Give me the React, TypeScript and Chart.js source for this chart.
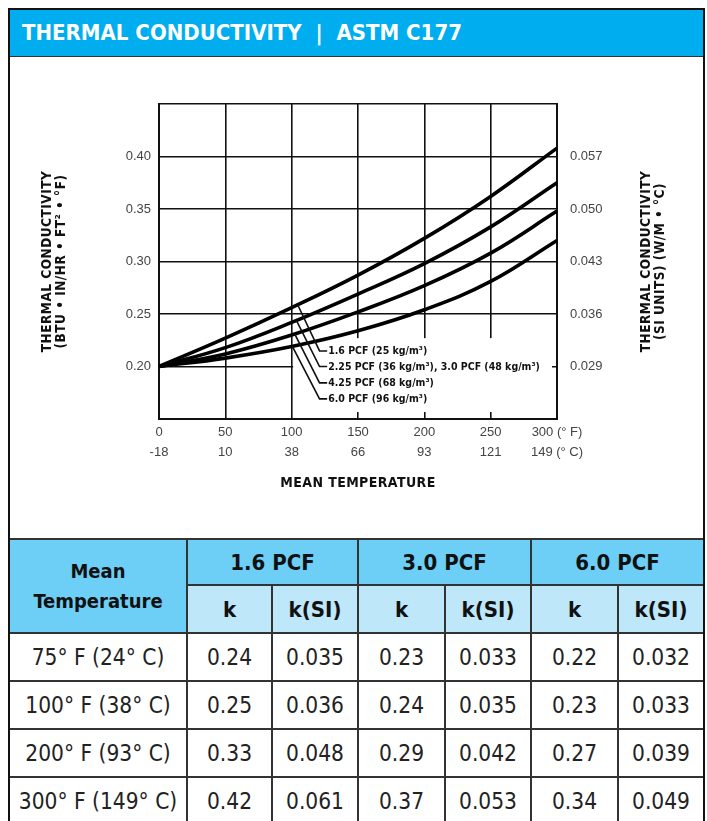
import React, { useEffect, useRef } from 'react';
import { Chart, registerables } from 'chart.js';

Chart.register(...registerables);

// ---------- chart data ----------
const temperaturesF = [0, 50, 100, 150, 200, 250, 300];
const series16 = [0.2, 0.227, 0.256, 0.287, 0.322, 0.362, 0.408];
const series225 = [0.2, 0.218, 0.242, 0.269, 0.298, 0.333, 0.375];
const series425 = [0.2, 0.212, 0.23, 0.252, 0.277, 0.308, 0.348];
const series60 = [0.2, 0.208, 0.219, 0.234, 0.254, 0.281, 0.32];
const seriesLabels = [
  '1.6 PCF (25 kg/m³)',
  '2.25 PCF (36 kg/m³), 3.0 PCF (48 kg/m³)',
  '4.25 PCF (68 kg/m³)',
  '6.0 PCF (96 kg/m³)',
];
const xTickLabelsF = ['0', '50', '100', '150', '200', '250', '300 (° F)'];
const xTickLabelsC = ['-18', '10', '38', '66', '93', '121', '149 (° C)'];
const yTickValues = [0.2, 0.25, 0.3, 0.35, 0.4];
const yTickLabels = ['0.20', '0.25', '0.30', '0.35', '0.40'];
const ySiTickLabels = ['0.029', '0.036', '0.043', '0.050', '0.057'];

// ---------- table data ----------
const tableTemps = ['75° F (24° C)', '100° F (38° C)', '200° F (93° C)', '300° F (149° C)'];
const densityHeaders = ['1.6 PCF', '3.0 PCF', '6.0 PCF'];
const k16 = ['0.24', '0.25', '0.33', '0.42'];
const kSi16 = ['0.035', '0.036', '0.048', '0.061'];
const k30 = ['0.23', '0.24', '0.29', '0.37'];
const kSi30 = ['0.033', '0.035', '0.042', '0.053'];
const k60 = ['0.22', '0.23', '0.27', '0.34'];
const kSi60 = ['0.032', '0.033', '0.039', '0.049'];

// ---------- layout / style ----------
const NARROW = '"DejaVu Sans Condensed", "Liberation Sans", sans-serif';
const SANS = '"Liberation Sans", Arial, sans-serif';
const leaderStartOffsets = [6, 4.7, 3, 0.7];
const labelYValues = [0.2148, 0.2, 0.1844, 0.1692];

const annotationPlugin = {
  id: 'annotations',
  beforeDatasetsDraw(chart: any) {
    const { ctx, scales } = chart;
    const x = scales.x;
    const y = scales.y;
    const left = x.getPixelForValue(100) + 1.5;
    const right = x.getPixelForValue(300) - 5;
    const top = y.getPixelForValue(0.227);
    const bottom = y.getPixelForValue(0.15) - 7;
    ctx.save();
    ctx.fillStyle = '#ffffff';
    ctx.fillRect(left, top, right - left, bottom - top);
    ctx.restore();
  },
  afterDatasetsDraw(chart: any) {
    const { ctx, scales } = chart;
    const x = scales.x;
    const y = scales.y;
    const bendX = x.getPixelForValue(121);
    const textX = x.getPixelForValue(127.5);
    ctx.save();
    ctx.strokeStyle = '#111';
    ctx.lineWidth = 1.6;
    ctx.fillStyle = '#111';
    ctx.font = `bold 10.5px ${NARROW}`;
    ctx.textAlign = 'left';
    ctx.textBaseline = 'middle';
    seriesLabels.forEach((lab, i) => {
      const meta = chart.getDatasetMeta(i);
      const p0 = meta.data[2];
      const p1 = meta.data[3];
      const sx = p0.x + leaderStartOffsets[i];
      const t = (sx - p0.x) / (p1.x - p0.x);
      const sy = p0.y + t * (p1.y - p0.y);
      const ly = y.getPixelForValue(labelYValues[i]);
      ctx.beginPath();
      ctx.moveTo(sx, sy);
      ctx.lineTo(bendX, ly);
      ctx.lineTo(textX - 1, ly);
      ctx.stroke();
      ctx.fillText(lab, textX, ly + 0.5);
    });
    ctx.restore();
  },
  afterDraw(chart: any) {
    const { ctx, chartArea } = chart;
    const cy = (chartArea.top + chartArea.bottom) / 2;
    const cx = (chartArea.left + chartArea.right) / 2;
    ctx.save();
    ctx.fillStyle = '#111';
    ctx.textAlign = 'center';
    ctx.textBaseline = 'middle';
    ctx.font = `bold 13.5px ${NARROW}`;
    (ctx as any).letterSpacing = '0.5px';
    const rot = (px: number, text: string) => {
      ctx.save();
      ctx.translate(px, cy);
      ctx.rotate(-Math.PI / 2);
      ctx.fillText(text, 0, 0);
      ctx.restore();
    };
    rot(37, 'THERMAL CONDUCTIVITY');
    rot(51, '(BTU • IN/HR • FT² • °F)');
    rot(636, 'THERMAL CONDUCTIVITY');
    rot(650, '(SI UNITS) (W/M • °C)');
    ctx.font = `bold 14px ${NARROW}`;
    (ctx as any).letterSpacing = '0.4px';
    ctx.fillText('MEAN TEMPERATURE', cx, 426);
    ctx.restore();
  },
};

function ThermalChart() {
  const ref = useRef<HTMLCanvasElement | null>(null);
  useEffect(() => {
    if (!ref.current) return;
    const allSeries = [series16, series225, series425, series60];
    const findLabel = (v: number, labels: string[]) => {
      const idx = yTickValues.findIndex((t) => Math.abs(t - v) < 1e-6);
      return idx >= 0 ? labels[idx] : '';
    };
    const yTicks = () => [0.15, ...yTickValues, 0.45].map((value) => ({ value }));
    const chart = new Chart(ref.current, {
      type: 'line',
      data: {
        datasets: allSeries.map((s, si) => ({
          label: seriesLabels[si],
          data: temperaturesF.map((t, i) => ({ x: t, y: s[i] })),
          borderColor: '#000',
          borderWidth: 3.6,
          pointRadius: 0,
          tension: 0.4,
          yAxisID: 'y',
          clip: 6,
        })),
      },
      options: {
        responsive: false,
        animation: false,
        devicePixelRatio: 1,
        layout: { padding: { top: 47, left: 0, right: 0, bottom: 0 } },
        plugins: { legend: { display: false }, tooltip: { enabled: false } },
        scales: {
          x: {
            type: 'linear',
            position: 'bottom',
            min: 0,
            max: 300,
            afterBuildTicks: (s: any) => {
              s.ticks = temperaturesF.map((value) => ({ value }));
            },
            afterFit: (s: any) => {
              s.height = 119;
            },
            ticks: {
              autoSkip: false,
              maxRotation: 0,
              padding: 4,
              color: '#444',
              font: { family: SANS, size: 13, lineHeight: 1.5 },
              callback: (_v: any, i: number) => [xTickLabelsF[i], xTickLabelsC[i]],
            },
            grid: { color: '#111', lineWidth: 1.6, drawTicks: false },
            border: { color: '#111', width: 2 },
          },
          y: {
            type: 'linear',
            position: 'left',
            min: 0.15,
            max: 0.45,
            afterBuildTicks: (s: any) => {
              s.ticks = yTicks();
            },
            afterFit: (s: any) => {
              s.width = 149;
            },
            ticks: {
              padding: 8,
              color: '#444',
              font: { family: SANS, size: 13 },
              callback: (v: any) => findLabel(Number(v), yTickLabels),
            },
            grid: { color: '#111', lineWidth: 1.6, drawTicks: false },
            border: { color: '#111', width: 2 },
          },
          ySi: {
            type: 'linear',
            position: 'right',
            min: 0.15,
            max: 0.45,
            afterBuildTicks: (s: any) => {
              s.ticks = yTicks();
            },
            afterFit: (s: any) => {
              s.width = 146;
            },
            ticks: {
              padding: 13,
              color: '#444',
              font: { family: SANS, size: 13 },
              callback: (v: any) => findLabel(Number(v), ySiTickLabels),
            },
            grid: { drawOnChartArea: false, drawTicks: false },
            border: { color: '#111', width: 2 },
          },
        },
      },
      plugins: [annotationPlugin],
    } as any);
    return () => chart.destroy();
  }, []);
  return <canvas ref={ref} width={693} height={481} style={{ display: 'block', width: 693, height: 481 }} />;
}

const BORDER = '2px solid #333';
const TOP_BLUE = '#6dcff6';
const SUB_BLUE = '#bee7f9';
const colWidths = [177, 85, 86, 87, 86, 87, 85];

function DataTable() {
  const cols = [
    [k16, kSi16],
    [k30, kSi30],
    [k60, kSi60],
  ];
  const headCell: React.CSSProperties = {
    fontFamily: NARROW,
    fontWeight: 'bold',
    fontSize: 22,
    color: '#111',
    textAlign: 'center',
    padding: 0,
    borderRight: BORDER,
    borderBottom: BORDER,
  };
  const dataCell: React.CSSProperties = {
    fontFamily: NARROW,
    fontSize: 22.5,
    color: '#222',
    textAlign: 'center',
    padding: 0,
    borderRight: BORDER,
    borderBottom: BORDER,
    height: 46,
    whiteSpace: 'nowrap',
  };
  return (
    <table
      style={{
        borderCollapse: 'collapse',
        tableLayout: 'fixed',
        width: 693,
        borderTop: BORDER,
      }}
    >
      <colgroup>
        {colWidths.map((w, i) => (
          <col key={i} style={{ width: w }} />
        ))}
      </colgroup>
      <tbody>
        <tr style={{ height: 46 }}>
          <td rowSpan={2} style={{ ...headCell, background: TOP_BLUE, lineHeight: '30px', fontSize: 20 }}>
            Mean
            <br />
            Temperature
          </td>
          {densityHeaders.map((h, i) => (
            <td key={h} colSpan={2} style={{ ...headCell, background: TOP_BLUE, borderRight: i === 2 ? 'none' : BORDER }}>
              {h}
            </td>
          ))}
        </tr>
        <tr style={{ height: 48 }}>
          {densityHeaders.map((h, i) => (
            <React.Fragment key={h}>
              <td style={{ ...headCell, background: SUB_BLUE }}>k</td>
              <td style={{ ...headCell, background: SUB_BLUE, borderRight: i === 2 ? 'none' : BORDER }}>k(SI)</td>
            </React.Fragment>
          ))}
        </tr>
        {tableTemps.map((t, r) => (
          <tr key={t} style={{ height: 48 }}>
            <td style={dataCell}>{t}</td>
            {cols.map(([k, ksi], c) => (
              <React.Fragment key={c}>
                <td style={dataCell}>{k[r]}</td>
                <td style={{ ...dataCell, borderRight: c === 2 ? 'none' : BORDER }}>{ksi[r]}</td>
              </React.Fragment>
            ))}
          </tr>
        ))}
      </tbody>
    </table>
  );
}

export default function App() {
  return (
    <div style={{ position: 'fixed', left: 0, top: 0, width: 707, height: 821, overflow: 'hidden', background: '#fff' }}>
      <div
        style={{
          position: 'absolute',
          left: 8,
          top: 8,
          width: 697,
          boxSizing: 'border-box',
          border: '2px solid #111',
          background: '#fff',
        }}
      >
        <div
          style={{
            height: 46,
            background: '#00aeef',
            borderBottom: '1px solid #333',
            color: '#fff',
            fontFamily: NARROW,
            fontWeight: 'bold',
            fontSize: 22,
            lineHeight: '46px',
            paddingLeft: 12,
            whiteSpace: 'pre',
          }}
        >
          {'THERMAL CONDUCTIVITY  |  ASTM C177'}
        </div>
        <ThermalChart />
        <DataTable />
      </div>
    </div>
  );
}
